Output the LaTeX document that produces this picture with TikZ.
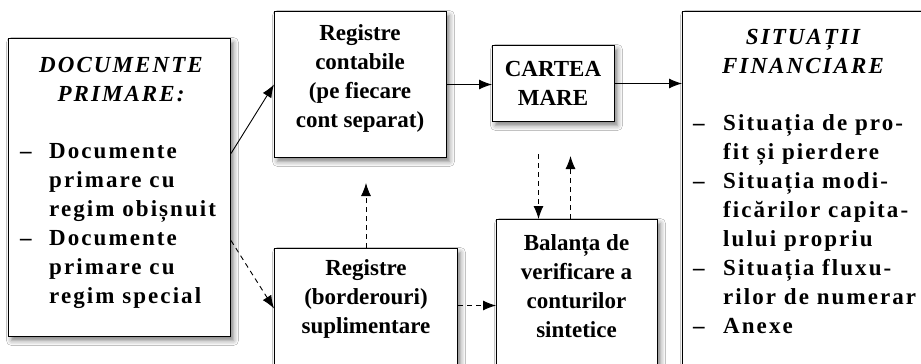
\documentclass[tikz,border=0pt]{standalone}
\usepackage{fontspec}
\setmainfont{Liberation Serif}
\newfontfamily\spacedfont[LetterSpace=9]{Liberation Serif}
\usetikzlibrary{arrows.meta,shadows.blur,calc}
\begin{document}
\begin{tikzpicture}[x=1pt,y=-1pt,
  box/.style={draw=black, line width=1pt, fill=white, inner sep=0pt,
    blur shadow={shadow xshift=3pt, shadow yshift=-4pt, shadow blur radius=5pt, shadow opacity=50}},
  txt/.style={inner sep=0pt, align=center, font=\fontsize{23}{29}\selectfont\bfseries},
  ttl/.style={inner sep=0pt, align=center, font=\spacedfont\fontsize{23}{29}\selectfont\bfseries\itshape},
  lst/.style={inner sep=0pt, align=left, anchor=west, font=\spacedfont\fontsize{23}{29}\selectfont\bfseries},
  arr/.style={line width=0.9pt, -{Latex[length=13pt,width=10pt]}},
  dsh/.style={arr, dash pattern=on 5pt off 4pt},
]
\useasboundingbox (0,0) rectangle (921,364);
\clip (0,0) rectangle (921,364);
\fill[white] (0,0) rectangle (921,364);

\node[box, minimum width=222pt, minimum height=298pt, anchor=north west] (L) at (8,38) {};
\node[box, minimum width=172pt, minimum height=146pt, anchor=north west] (RC) at (274,11) {};
\node[box, minimum width=183pt, minimum height=140pt, anchor=north west] (RS) at (274,248) {};
\node[box, minimum width=122pt, minimum height=76pt, anchor=north west] (CM) at (492,45) {};
\node[box, minimum width=161pt, minimum height=170pt, anchor=north west] (BV) at (496,219) {};
\node[box, minimum width=260pt, minimum height=380pt, anchor=north west] (SF) at (682,11) {};

\node[txt] (RCt) at (360,78) {Registre\\contabile\\(pe fiecare\\cont separat)};
\node[txt] (CMt) at (553,83) {CARTEA\\MARE};
\node[txt] (RSt) at (366,299) {Registre\\(borderouri)\\suplimentare};
\node[txt] (BVt) at (576.5,286) {Balanța de\\verificare a\\conturilor\\sintetice};

\node[ttl] (Lt) at (121,79.5) {DOCUMENTE\\PRIMARE:};
\node[lst] (Ll) at (20,226) {\makebox[29pt][l]{–}Documente\\
\hspace*{29pt}primare cu\\
\hspace*{29pt}regim obișnuit\\
\makebox[29pt][l]{–}Documente\\
\hspace*{29pt}primare cu\\
\hspace*{29pt}regim special};

\node[ttl] (SFt) at (803,51.7) {SITUAȚII\\FINANCIARE};
\node[lst] (SFl) at (693,224.5) {\makebox[30pt][l]{–}Situația de pro-\\
\hspace*{30pt}fit și pierdere\\
\makebox[30pt][l]{–}Situația modi-\\
\hspace*{30pt}ficărilor capita-\\
\hspace*{30pt}lului propriu\\
\makebox[30pt][l]{–}Situația fluxu-\\
\hspace*{30pt}rilor de numerar\\
\makebox[30pt][l]{–}Anexe};

\draw[arr] ([yshift=34pt]L.east) -- (RC.west);
\draw[dsh] ([yshift=-53pt]L.east) -- ([yshift=10pt]RS.west);
\draw[dsh, shorten >=25pt] (RS.north) -- (RS.north |- RC.south);
\draw[arr] (RC.east) -- (RC.east -| CM.west);
\draw[arr] (CM.east) -- (CM.east -| SF.west);
\coordinate (p6) at ([xshift=-15pt,yshift=-32pt]CM.south);
\draw[dsh] (p6) -- (p6 |- BV.north);
\coordinate (p7) at ([xshift=17pt,yshift=-34pt]CM.south);
\draw[dsh] (p7 |- BV.north) -- (p7);
\coordinate (p8) at ([yshift=13pt]RS.east);
\draw[dsh] (p8) -- (p8 -| BV.west);
\end{tikzpicture}
\end{document}
